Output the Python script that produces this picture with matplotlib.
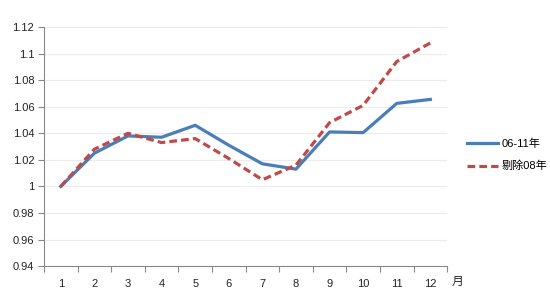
import numpy as np
import matplotlib
matplotlib.use("Agg")
import matplotlib.pyplot as plt

plt.rcParams['font.family'] = ['Liberation Sans', 'Noto Sans CJK SC']

# data
months = [1, 2, 3, 4, 5, 6, 7, 8, 9, 10, 11, 12]
all_years = [1.0, 1.025, 1.038, 1.037, 1.046, 1.031, 1.017, 1.013, 1.041, 1.0405, 1.0625, 1.0655]
ex_2008 = [1.0, 1.028, 1.040, 1.033, 1.036, 1.021, 1.005, 1.016, 1.048, 1.061, 1.094, 1.108]
series_labels = ['06-11年', '剔除08年']
y_ticks = [0.94, 0.96, 0.98, 1.0, 1.02, 1.04, 1.06, 1.08, 1.1, 1.12]
y_tick_labels = ['0.94', '0.96', '0.98', '1', '1.02', '1.04', '1.06', '1.08', '1.1', '1.12']

fig = plt.figure(figsize=(5.5, 3.0), dpi=100)
ax = fig.add_axes([0.08, 0.113, 0.733, 0.797])

x = np.arange(len(months))
ax.plot(x, all_years, color='#4a7ebb', lw=2.3, label=series_labels[0])
ax.plot(x, ex_2008, color='#be4b48', lw=2.3, ls=(0, (2.4, 1.3)), label=series_labels[1])

ax.set_xlim(-0.5, len(months) - 0.5)
ax.set_ylim(0.94, 1.12)
ax.set_yticks(y_ticks)
ax.set_yticklabels(y_tick_labels)
ax.set_xticks(x)
ax.set_xticklabels([str(m) for m in months])
ax.set_xticks(np.arange(-0.5, len(months)), minor=True)
ax.tick_params(axis='x', which='major', length=0, pad=9, labelsize=8, colors='#222222')
ax.tick_params(axis='x', which='minor', length=4, width=0.8, color='#888888', direction='out')
ax.tick_params(axis='y', length=4, width=0.8, color='#888888', labelsize=8, pad=3, labelcolor='#222222')

ax.grid(axis='y', color='#ececec', lw=0.8)
ax.set_axisbelow(True)
for side in ['top', 'right']:
    ax.spines[side].set_visible(False)
for side in ['left', 'bottom']:
    ax.spines[side].set_color('#888888')
    ax.spines[side].set_linewidth(0.8)

ax.text(1.01, -0.065, '月', transform=ax.transAxes, fontsize=8.5, ha='left', va='center', color='#222222')

ax.legend(loc='center left', bbox_to_anchor=(1.025, 0.465), frameon=False, fontsize=8,
          handlelength=2.8, labelspacing=1.1, handletextpad=0.3)

fig.savefig('out.png', dpi=100)
